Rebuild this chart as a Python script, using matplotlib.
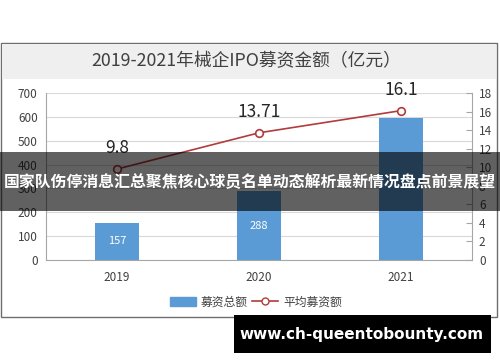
import matplotlib
matplotlib.use("Agg")
import matplotlib.pyplot as plt
from matplotlib.patches import Rectangle
from matplotlib.lines import Line2D

plt.rcParams['font.family'] = ['Noto Sans CJK SC', 'DejaVu Sans']

years = ["2019", "2020", "2021"]
total = [157, 288, 595]          # 募资总额 (亿元)
avg = [9.8, 13.71, 16.1]         # 平均募资额
bar_labels = ["157", "288", ""]  # 2021 label hidden under the banner
title = "2019-2021年械企IPO募资金额（亿元）"
banner = "国家队伤停消息汇总聚焦核心球员名单动态解析最新情况盘点前景展望"
site = "www.ch-queentobounty.com"

W, H = 500, 362
fig = plt.figure(figsize=(W / 100, H / 100), dpi=100)
fig.patch.set_facecolor("white")


def fx(px):
    return px / W


def fy(py):
    return 1 - py / H


# chart frame + grey title band
fig.patches.append(Rectangle((fx(1), fy(317)), fx(496), 274 / H, transform=fig.transFigure,
                             facecolor="white", edgecolor="#6e6e6e", lw=1.0, zorder=-2))
fig.patches.append(Rectangle((fx(2), fy(79)), fx(494), 35 / H, transform=fig.transFigure,
                             facecolor="#efefef", edgecolor="none", zorder=-1))
fig.text(fx(246), fy(61), title, ha="center", va="center", fontsize=12.8, color="#404040")

ax = fig.add_axes([fx(46), fy(260), fx(472 - 46), (260 - 93) / H])
ax.set_zorder(1)
ax.set_facecolor("none")
x = range(len(years))
bars = ax.bar(x, total, width=0.31, color="#5b9bd5", zorder=2)
for b, lab in zip(bars, bar_labels):
    ax.text(b.get_x() + b.get_width() / 2, b.get_height() / 2, lab, ha="center", va="center",
            color="white", fontsize=8, zorder=3)
ax.set_xlim(-0.5, 2.5)
ax.set_ylim(0, 700)
ax.set_yticks(range(0, 701, 100))
ax.set_xticks(list(x))
ax.set_xticklabels(years)
ax.yaxis.grid(True, color="#d9d9d9", lw=0.8, zorder=0)
ax.set_axisbelow(True)
for s in ["top", "right"]:
    ax.spines[s].set_visible(False)
ax.spines["left"].set_color("#a6a6a6")
ax.spines["bottom"].set_color("#a6a6a6")
ax.tick_params(axis="both", length=0, labelsize=8.5, colors="#404040", pad=6)
ax.tick_params(axis="x", pad=8)

ax2 = ax.twinx()
ax2.set_zorder(2)
ax2.plot(list(x), avg, color="#b23b3b", lw=1.2, marker="o", ms=5.5,
         markerfacecolor="white", markeredgecolor="#b23b3b", mew=1.2, zorder=4)
for xi, v in zip(x, avg):
    ax2.text(xi, v + 1.3, f"{v:g}", ha="center", va="bottom", fontsize=12.5, color="#262626")
ax2.set_ylim(0, 18)
ax2.set_yticks(range(0, 19, 2))
for s in ["top", "left", "bottom"]:
    ax2.spines[s].set_visible(False)
ax2.spines["right"].set_color("#a6a6a6")
ax2.tick_params(axis="y", direction="in", length=4, color="#a6a6a6", labelsize=8.5,
                labelcolor="#404040", pad=5)

handles = [Rectangle((0, 0), 1, 1, color="#5b9bd5"),
           Line2D([0], [0], color="#b23b3b", lw=1.2, marker="o", ms=5,
                  markerfacecolor="white", markeredgecolor="#b23b3b")]
fig.legend(handles, ["募资总额", "平均募资额"], loc="center", bbox_to_anchor=(fx(256), fy(302)),
           ncol=2, frameon=False, fontsize=8.5, handlelength=2.2, columnspacing=0.4,
           handletextpad=0.4, labelcolor="#404040")

# dark banner overlay
fig.patches.append(Rectangle((0, fy(211)), 1, 59 / H, transform=fig.transFigure,
                             facecolor="black", alpha=0.62, edgecolor="none", zorder=10))
fig.text(fx(250), fy(182), banner, ha="center", va="center", fontsize=11.4, color="white",
         fontweight="bold", zorder=11)

# site box
fig.patches.append(Rectangle((fx(234), fy(353)), fx(257), 38 / H, transform=fig.transFigure,
                             facecolor="black", edgecolor="none", zorder=10))
fig.text(fx(362), fy(335), site, ha="center", va="center", fontsize=11, color="white",
         fontweight="bold", family=["DejaVu Sans"], zorder=11)

fig.savefig("out.png", dpi=100)
